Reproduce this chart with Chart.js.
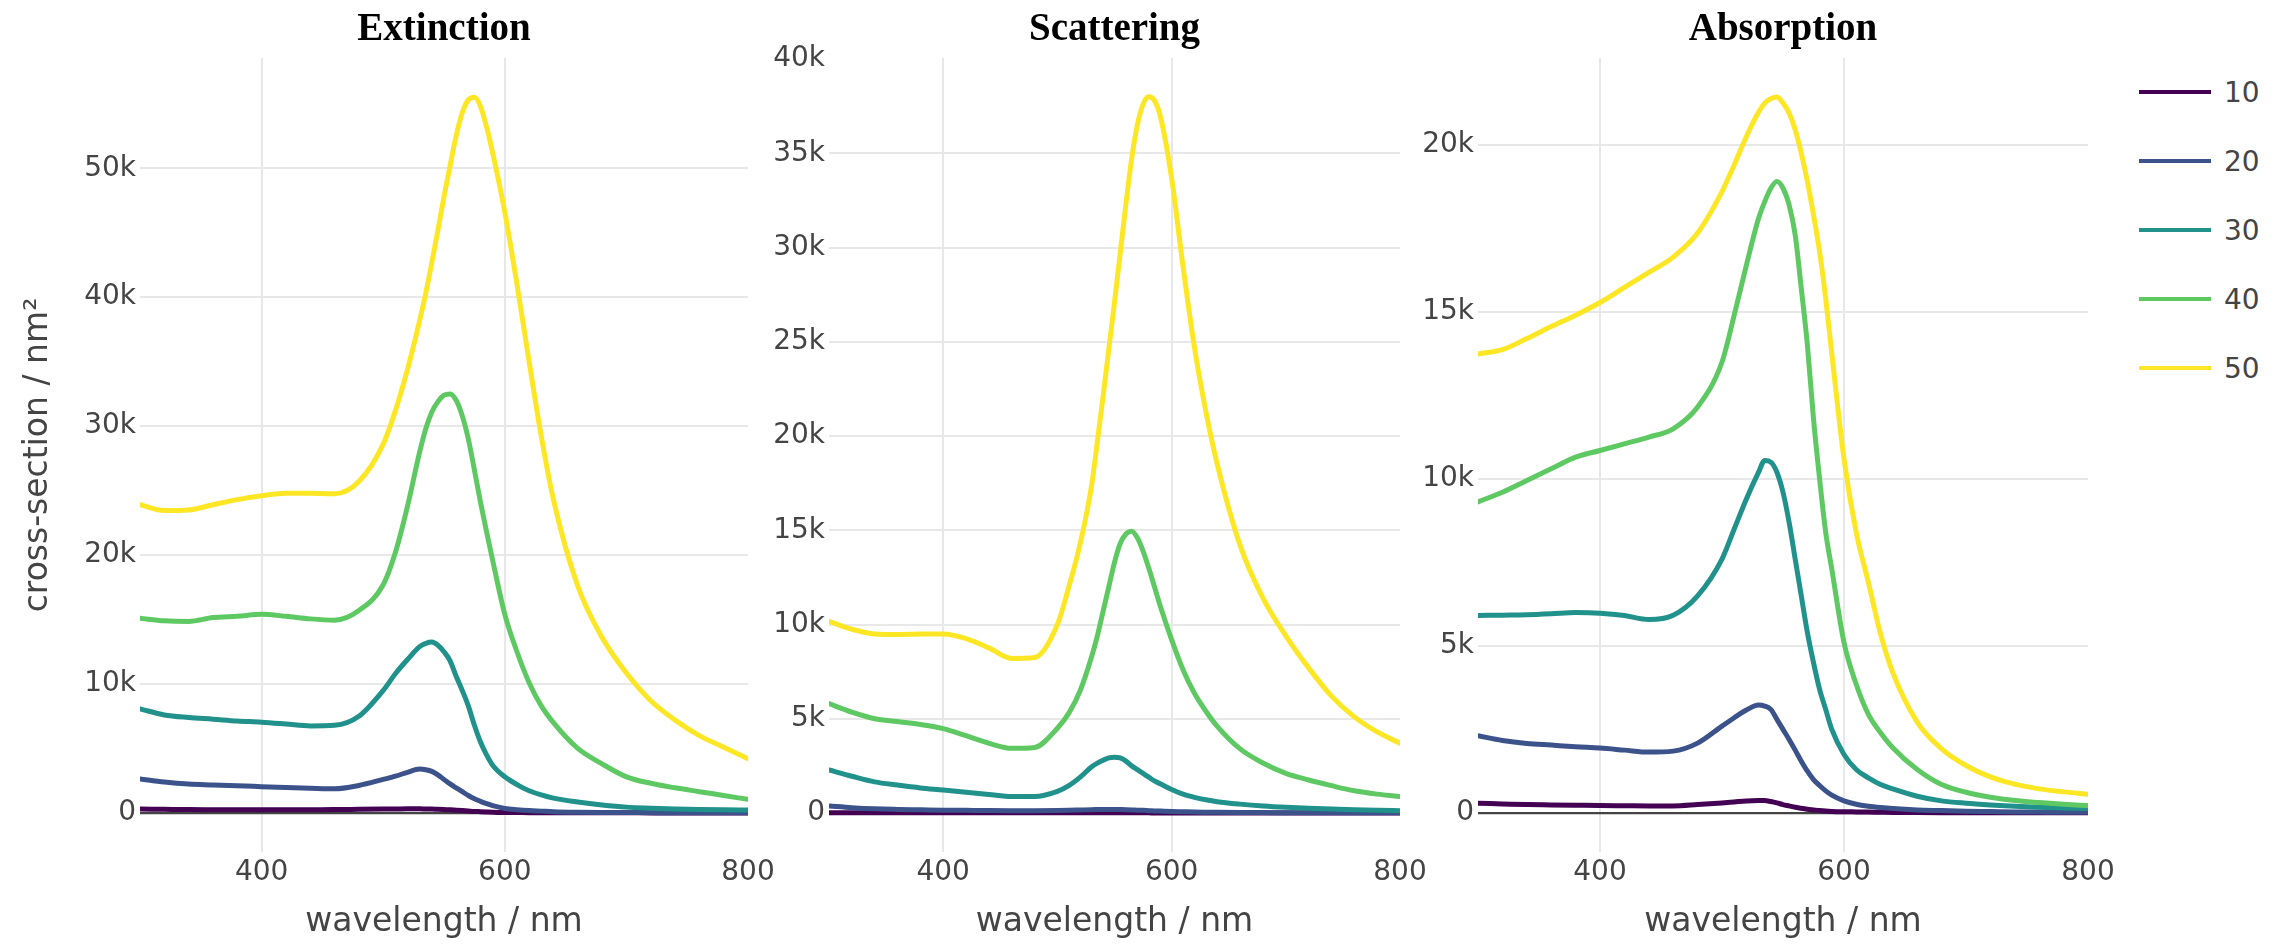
<!DOCTYPE html>
<html>
<head>
<meta charset="utf-8">
<title>Cross-sections</title>
<script src="https://cdn.jsdelivr.net/npm/chart.js@4.4.1/dist/chart.umd.min.js"></script>
<style>
  html, body { margin: 0; padding: 0; background: #fff; }
  #page { position: relative; width: 2282px; height: 948px; overflow: hidden; }
  #page canvas { position: absolute; top: 0; }
  .legend-item { position: absolute; left: 2139px; height: 40px; display: flex; align-items: center;
                 font: 28px "DejaVu Sans"; color: #444; white-space: nowrap; }
  .legend-item .swatch { width: 72px; height: 4.5px; margin-right: 13px; }
</style>
</head>
<body>
<div id="page">
  <canvas id="ext-chart"></canvas>
  <canvas id="sca-chart"></canvas>
  <canvas id="abs-chart"></canvas>
  <div id="legend"></div>
</div>
<script>
(function() {
    'use strict';

    // wavelength grid (nm)
    var wavelengths = [300, 320, 340, 360, 380, 400, 420, 440, 460, 480,
                       500, 510, 520, 530, 535, 540, 545, 550, 555, 560,
                       565, 570, 575, 580, 585, 590, 600, 610, 620, 630,
                       640, 660, 680, 700, 720, 740, 760, 780, 800];

    var sizes = ['10', '20', '30', '40', '50'];
    var sizeColors = ['#440154', '#3b528b', '#21918c', '#5ec962', '#fde725'];

    // Extinction
    var ext10 = [300, 280, 260, 250, 240, 240, 240, 250, 260, 280,
                 300, 310, 320, 320, 310, 300, 280, 260, 240, 210,
                 180, 150, 120, 100, 80, 60, 40, 30, 20, 15,
                 10, 8, 5, 5, 4, 3, 3, 2, 2];
    var ext20 = [2640, 2400, 2240, 2170, 2100, 2040, 1980, 1920, 1870, 2130,
                 2600, 2850, 3150, 3400, 3350, 3220, 2950, 2600, 2250, 1950,
                 1650, 1350, 1100, 900, 720, 560, 350, 250, 180, 140,
                 100, 60, 40, 30, 25, 20, 20, 15, 15];
    var ext30 = [8070, 7600, 7400, 7270, 7130, 7040, 6900, 6750, 6800, 7500,
                 9500, 10800, 11900, 12900, 13150, 13250, 13000, 12500, 11800, 10600,
                 9500, 8300, 6800, 5500, 4500, 3700, 2800, 2200, 1720, 1400,
                 1150, 850, 620, 450, 370, 310, 270, 240, 220];
    var ext40 = [15100, 14900, 14850, 15150, 15250, 15400, 15250, 15050, 14950, 15700,
                 17700, 20200, 23800, 28000, 29800, 31100, 31900, 32400, 32500, 32000,
                 30800, 29000, 26600, 24100, 21800, 19600, 15400, 12500, 10100, 8300,
                 7000, 5000, 3800, 2800, 2300, 1950, 1650, 1350, 1050];
    var ext50 = [23900, 23450, 23500, 23900, 24300, 24600, 24800, 24800, 24750, 25700,
                 28600, 31200, 34400, 38200, 40300, 42700, 45200, 47800, 50200, 52500,
                 54300, 55300, 55500, 54800, 53200, 51200, 46600, 41000, 35000, 29200,
                 24300, 17600, 13600, 10850, 8700, 7200, 6000, 5100, 4200];

    // Scattering
    var sca10 = [12, 10, 9, 8, 8, 8, 8, 8, 8, 9,
                 10, 10, 11, 12, 12, 12, 12, 11, 11, 10,
                 9, 8, 7, 6, 5, 5, 4, 3, 3, 2,
                 2, 2, 1, 1, 1, 1, 1, 1, 1];
    var sca20 = [370, 280, 220, 190, 170, 150, 140, 130, 125, 125,
                 135, 145, 160, 175, 180, 185, 185, 185, 180, 175,
                 165, 150, 140, 125, 110, 100, 80, 65, 50, 42,
                 35, 25, 20, 15, 12, 10, 9, 8, 7];
    var sca30 = [2280, 1950, 1650, 1480, 1330, 1220, 1100, 980, 870, 870,
                 1150, 1450, 1900, 2450, 2650, 2800, 2920, 2960, 2920, 2750,
                 2500, 2300, 2100, 1900, 1700, 1550, 1250, 1000, 830, 700,
                 600, 470, 370, 300, 250, 210, 170, 140, 120];
    var sca40 = [5800, 5350, 5000, 4850, 4700, 4480, 4100, 3700, 3430, 3480,
                 4500, 5300, 6500, 8300, 9400, 10700, 12000, 13300, 14300, 14800,
                 14950, 14600, 13900, 13000, 12000, 11000, 9200, 7600, 6350, 5400,
                 4600, 3400, 2650, 2100, 1750, 1450, 1180, 1000, 870];
    var sca50 = [10170, 9750, 9500, 9470, 9500, 9500, 9250, 8760, 8200, 8250,
                 10000, 12000, 14300, 17400, 19700, 22100, 24600, 27100, 29700, 32300,
                 34700, 36500, 37600, 38000, 37800, 37000, 33700, 29000, 24700, 21300,
                 18500, 14200, 11400, 9400, 7700, 6200, 5100, 4300, 3700];

    // Absorption
    var abs10 = [290, 270, 250, 240, 230, 220, 215, 210, 210, 250,
                 300, 330, 360, 370, 370, 340, 300, 250, 210, 170,
                 140, 110, 90, 70, 55, 45, 35, 30, 25, 20,
                 15, 10, 8, 6, 5, 4, 3, 3, 2];
    var abs20 = [2310, 2170, 2080, 2030, 1980, 1940, 1880, 1820, 1850, 2090,
                 2600, 2850, 3080, 3230, 3200, 3100, 2800, 2500, 2200, 1880,
                 1550, 1250, 1000, 820, 660, 530, 360, 260, 200, 160,
                 130, 90, 70, 50, 40, 30, 25, 20, 20];
    var abs30 = [5910, 5920, 5930, 5960, 6000, 5980, 5910, 5790, 5920, 6500,
                 7600, 8500, 9400, 10200, 10550, 10500, 10200, 9600, 8700, 7600,
                 6500, 5400, 4500, 3700, 3100, 2500, 1750, 1300, 1050, 850,
                 720, 500, 360, 290, 240, 200, 170, 150, 130];
    var abs40 = [9310, 9600, 9950, 10300, 10650, 10850, 11050, 11250, 11500, 12150,
                 13500, 14900, 16400, 17800, 18300, 18700, 18900, 18700, 18200, 17300,
                 15700, 14000, 11800, 10000, 8400, 7300, 5100, 3850, 2950, 2400,
                 1950, 1300, 850, 620, 470, 370, 310, 260, 220];
    var abs50 = [13740, 13870, 14200, 14560, 14900, 15280, 15730, 16180, 16640, 17360,
                 18600, 19400, 20250, 20980, 21250, 21380, 21430, 21250, 20950, 20450,
                 19750, 18900, 17900, 16800, 15400, 13750, 10600, 8400, 6900, 5350,
                 4200, 2720, 1920, 1420, 1080, 860, 720, 630, 560];

    var wavelengthTicks = [400, 600, 800];
    var extTicks = [0, 10000, 20000, 30000, 40000, 50000];
    var scaTicks = [0, 5000, 10000, 15000, 20000, 25000, 30000, 35000, 40000];
    var absTicks = [0, 5000, 10000, 15000, 20000];

    var axisColor = '#444';
    var gridColor = '#e8e8e8';
    var tickFont = { family: 'DejaVu Sans', size: 28 };
    var axisTitleFont = { family: 'DejaVu Sans', size: 33 };

    Chart.defaults.font.family = 'DejaVu Sans';

    function points(values) {
        return wavelengths.map(function(w, i) { return { x: w, y: values[i] }; });
    }

    function kFormat(v) {
        return v === 0 ? '0' : (v / 1000) + 'k';
    }

    function fixedTicks(list) {
        return function(scale) {
            scale.ticks = list.map(function(v) { return { value: v }; });
        };
    }

    // hide grid lines that sit on the plot edge (plotly doesn't draw those)
    function edgeHidden(color) {
        return function(ctx) {
            var s = ctx.scale;
            var px = s.getPixelForValue(ctx.tick.value);
            var a = s.chart.chartArea;
            if (s.isHorizontal()) {
                if (Math.abs(px - a.left) < 3 || Math.abs(px - a.right) < 3) return 'rgba(0,0,0,0)';
            } else {
                if (Math.abs(px - a.top) < 3) return 'rgba(0,0,0,0)';
                if (ctx.tick.value === 0) return axisColor;
            }
            return color;
        };
    }

    var panels = [
        { id: 'ext-chart', title: 'Extinction', left: 0, axisWidth: 140, plotWidth: 608,
          yMin: -3030, yMax: 58550, ticks: extTicks, yTitle: 'cross-section / nm²',
          sets: [ext10, ext20, ext30, ext40, ext50] },
        { id: 'sca-chart', title: 'Scattering', left: 729, axisWidth: 100, plotWidth: 571,
          yMin: -2070, yMax: 40060, ticks: scaTicks, yTitle: null,
          sets: [sca10, sca20, sca30, sca40, sca50] },
        { id: 'abs-chart', title: 'Absorption', left: 1378, axisWidth: 100, plotWidth: 610,
          yMin: -1170, yMax: 22600, ticks: absTicks, yTitle: null,
          sets: [abs10, abs20, abs30, abs40, abs50] }
    ];

    panels.forEach(function(p) {
        var canvas = document.getElementById(p.id);
        var rightPad = 50;
        canvas.width = p.axisWidth + p.plotWidth + rightPad;
        canvas.height = 948;
        canvas.style.left = p.left + 'px';

        new Chart(canvas.getContext('2d'), {
            type: 'line',
            data: {
                datasets: p.sets.map(function(values, i) {
                    return {
                        label: sizes[i],
                        data: points(values),
                        borderColor: sizeColors[i],
                        backgroundColor: sizeColors[i],
                        borderWidth: 5,
                        pointRadius: 0,
                        fill: false,
                        cubicInterpolationMode: 'monotone',
                        borderJoinStyle: 'round',
                        borderCapStyle: 'round',
                        order: sizes.length - i
                    };
                })
            },
            options: {
                responsive: false,
                animation: false,
                devicePixelRatio: 1,
                events: [],
                layout: { padding: { left: 0, right: rightPad, top: 0, bottom: 0 } },
                plugins: {
                    legend: { display: false },
                    tooltip: { enabled: false },
                    title: {
                        display: true,
                        text: p.title,
                        fullSize: false,
                        color: '#000',
                        font: { family: 'Liberation Serif', size: 39, weight: 'bold', lineHeight: 1.2 },
                        padding: { top: 6.6, bottom: 4.6 }
                    }
                },
                scales: {
                    x: {
                        type: 'linear',
                        min: 300,
                        max: 800,
                        afterBuildTicks: fixedTicks(wavelengthTicks),
                        afterFit: function(s) {
                            s.height = 96;
                            s.paddingLeft = 0; s.paddingRight = 0;
                        },
                        border: { display: false },
                        grid: { color: edgeHidden(gridColor), lineWidth: 2, drawTicks: false },
                        ticks: { color: axisColor, font: tickFont, padding: 4, maxRotation: 0 },
                        title: {
                            display: true, text: 'wavelength / nm', color: axisColor,
                            font: axisTitleFont, padding: { top: 0, bottom: 6 }
                        }
                    },
                    y: {
                        type: 'linear',
                        min: p.yMin,
                        max: p.yMax,
                        afterBuildTicks: fixedTicks(p.ticks),
                        afterFit: function(s) {
                            s.width = p.axisWidth;
                            s.paddingTop = 0; s.paddingBottom = 0;
                        },
                        border: { display: false },
                        grid: {
                            color: edgeHidden(gridColor),
                            lineWidth: function(ctx) { return ctx.tick.value === 0 ? 2.3 : 2; },
                            drawTicks: false
                        },
                        ticks: { color: axisColor, font: tickFont, padding: 4, callback: kFormat },
                        title: {
                            display: !!p.yTitle, text: p.yTitle || '', color: axisColor,
                            font: axisTitleFont, padding: { top: 19, bottom: 0 }
                        }
                    }
                }
            }
        });
    });

    // legend (right side), built from the series names and colours
    var legend = document.getElementById('legend');
    sizes.forEach(function(label, i) {
        var item = document.createElement('div');
        item.className = 'legend-item';
        item.style.top = (92 + 69 * i - 20) + 'px';
        var swatch = document.createElement('span');
        swatch.className = 'swatch';
        swatch.style.background = sizeColors[i];
        var text = document.createElement('span');
        text.textContent = label;
        item.appendChild(swatch);
        item.appendChild(text);
        legend.appendChild(item);
    });
})();
</script>
</body>
</html>
